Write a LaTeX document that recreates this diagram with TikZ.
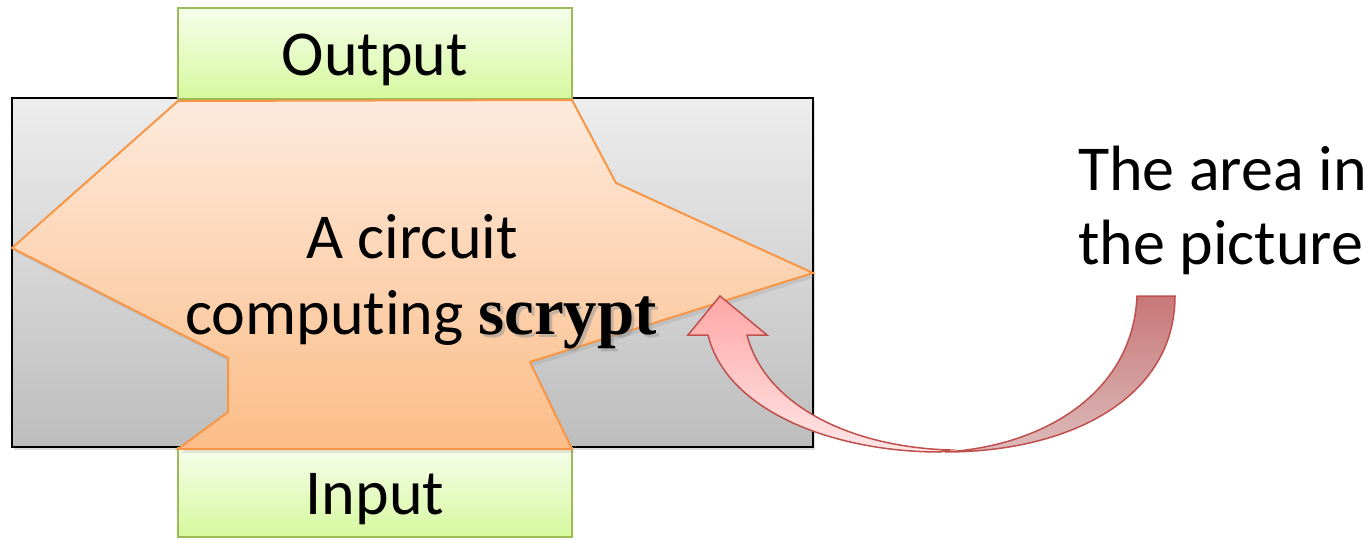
\documentclass[tikz,border=0pt]{standalone}
\usepackage{fontspec}
\setmainfont{Carlito}[Ligatures={NoCommon,NoRequired,NoContextual}]
\newfontfamily\boldserif{Liberation Serif}
\usetikzlibrary{shadows}

\definecolor{boxline}{HTML}{000000}
\definecolor{greenline}{HTML}{9BBB59}
\definecolor{greentop}{HTML}{F6FDEB}
\definecolor{greenbot}{HTML}{D6F99E}
\definecolor{orangeline}{HTML}{F79646}
\definecolor{orangetop}{HTML}{FDEADC}
\definecolor{orangebot}{HTML}{FCBD88}
\definecolor{graytop}{HTML}{EDEDED}
\definecolor{graybot}{HTML}{BDBDBD}
\definecolor{arrowline}{HTML}{C0504D}
\definecolor{arrowfronttop}{HTML}{FFA6A6}
\definecolor{arrowfrontbot}{HTML}{FFE6E6}
\definecolor{arrowbacktop}{HTML}{C87777}
\definecolor{arrowbackbot}{HTML}{DDBBBB}

\tikzset{
  bigtext/.style={font=\fontsize{64}{77}\selectfont},
  portbox/.style={draw=greenline, line width=1.5pt, top color=greentop, bottom color=greenbot,
    minimum width=394pt, inner sep=0pt},
  chipbox/.style={draw=boxline, line width=1.5pt, top color=graytop, bottom color=graybot,
    minimum width=801pt, minimum height=349pt, inner sep=0pt,
    drop shadow={shadow xshift=2pt, shadow yshift=-3pt, opacity=0.25}},
  circuitshape/.style={draw=orangeline, line width=2pt, line join=miter, top color=orangetop, bottom color=orangebot,
    drop shadow={shadow xshift=3pt, shadow yshift=-4pt, opacity=0.18}},
  arrowedge/.style={draw=arrowline, line width=1.5pt, line join=miter},
}

\begin{document}
\begin{tikzpicture}[x=1pt,y=-1pt]
\useasboundingbox (0,0) rectangle (1370,540);
\clip (0,0) rectangle (1370,540);

% grey area of the picture
\node[chipbox] (area) at (412.5,272.5) {};

% output and input ports
\node[portbox, minimum height=91pt] (out) at (375,53.5) {};
\node[bigtext, anchor=base] (outlabel) at (375,76) {Output};
\node[portbox, minimum height=89pt] (in) at (375,492.5) {};
\node[bigtext, anchor=base] (inlabel) at (375,514) {Input};

% the circuit region
\path[circuitshape]
  (178,101) -- (572,100) -- (616,183) -- (813,273) -- (530,362) -- (572,449)
  -- (178,449) -- (228,412) -- (228,358) -- (12,248) -- cycle;

\node[bigtext, anchor=base] (line1) at (412,258) {A circuit};
\node[bigtext, anchor=base west, inner sep=0pt] (line2) at (185,334)
  {computing {\boldserif\bfseries\fontsize{67}{77}\selectfont
   \tikz[baseline]{\node[inner sep=0pt, anchor=base, text=black!40, opacity=0.55] at (3pt,-3.5pt) {scrypt};
                   \node[inner sep=0pt, anchor=base] at (0,0) {scrypt};}}};

% caption
\node[bigtext, anchor=base west, inner sep=0pt] (caption1) at (1078,190) {The area in};
\node[bigtext, anchor=base west, inner sep=0pt] (caption2) at (1078,264) {the picture};

% curved arrow from the caption back to the circuit
\path[arrowedge, top color=arrowbacktop, bottom color=arrowbackbot]
  (1137,296) -- (1175,296)
  .. controls (1175,398) and (1070,452) .. (945,452)
  .. controls (1045,446) and (1133,392) .. (1137,296) -- cycle;
\path[arrowedge, top color=arrowfronttop, bottom color=arrowfrontbot]
  (720,296) -- (767,335) -- (747,335)
  .. controls (765,405) and (850,447) .. (950,450)
  -- (940,452)
  .. controls (835,452) and (727,412) .. (708,335)
  -- (688,335) -- cycle;
\end{tikzpicture}
\end{document}
